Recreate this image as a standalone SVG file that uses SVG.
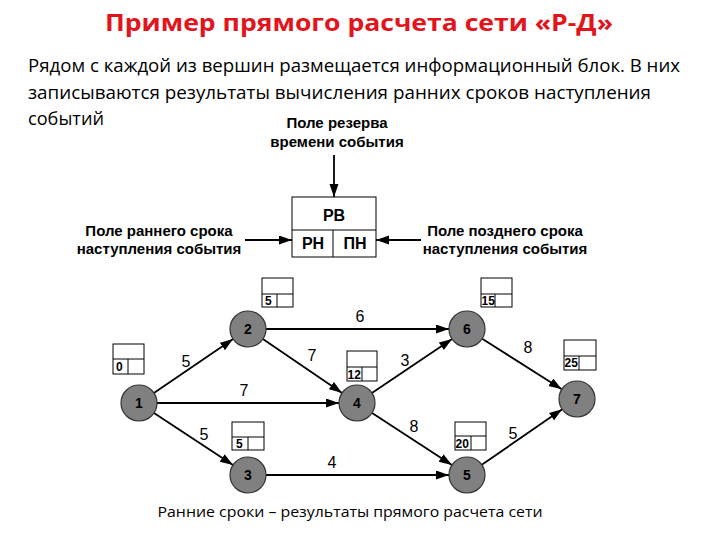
<svg xmlns="http://www.w3.org/2000/svg" width="720" height="540" viewBox="0 0 720 540">
<style>
.title{font-family:"Open Sans","Noto Sans",sans-serif;font-weight:bold;font-size:24px;fill:#e3141c}
.body{font-family:"Open Sans","Noto Sans",sans-serif;font-size:18px;fill:#000}
.lbl{font-family:"Liberation Sans",Arial,sans-serif;font-weight:bold;font-size:15px;fill:#000;text-anchor:middle}
.big{font-family:"Liberation Sans",Arial,sans-serif;font-weight:bold;font-size:16px;fill:#000;text-anchor:middle}
.nd circle{fill:#808080;stroke:#333;stroke-width:1.2}
.nd text{font-family:"Liberation Sans",Arial,sans-serif;font-weight:bold;font-size:14px;fill:#000;text-anchor:middle}
.ib rect,.ib line{fill:#fff;stroke:#000;stroke-width:1}
.ib text{font-family:"Liberation Sans",Arial,sans-serif;font-weight:bold;font-size:12px;fill:#000}
.e{stroke:#000;stroke-width:1.8;fill:none;marker-end:url(#ah)}
.w{font-family:"Liberation Sans",Arial,sans-serif;font-size:16px;fill:#000;text-anchor:middle}
.cap{font-family:"Open Sans","Noto Sans",sans-serif;font-size:14px;fill:#000;text-anchor:middle}
</style>
<defs>
<marker id="ah" markerUnits="userSpaceOnUse" markerWidth="14" markerHeight="10" refX="13" refY="4.5" orient="auto">
<path d="M0,0 L13,4.5 L0,9 z" fill="#000"/>
</marker>
</defs>
<rect width="720" height="540" fill="#fff"/>
<text class="title" x="105" y="31" textLength="508" lengthAdjust="spacingAndGlyphs">Пример прямого расчета сети «Р-Д»</text>
<text class="body" x="28" y="72" textLength="652" lengthAdjust="spacingAndGlyphs">Рядом с каждой из вершин размещается информационный блок. В них</text>
<text class="body" x="28" y="99" textLength="623" lengthAdjust="spacingAndGlyphs">записываются результаты вычисления ранних сроков наступления</text>
<text class="body" x="28" y="125" textLength="76" lengthAdjust="spacingAndGlyphs">событий</text>

<g id="legend">
<text class="lbl" x="337" y="128">Поле резерва</text>
<text class="lbl" x="337" y="147">времени события</text>
<text class="lbl" x="159" y="236">Поле раннего срока</text>
<text class="lbl" x="159" y="254">наступления события</text>
<text class="lbl" x="505" y="236">Поле позднего срока</text>
<text class="lbl" x="505" y="254">наступления события</text>
<rect x="292" y="197" width="84" height="60" fill="#fff" stroke="#000" stroke-width="1"/>
<line x1="292" y1="230" x2="376" y2="230" stroke="#000" stroke-width="1"/>
<line x1="333" y1="230" x2="333" y2="257" stroke="#000" stroke-width="1"/>
<text class="big" x="334" y="221">РВ</text>
<text class="big" x="313" y="249">РН</text>
<text class="big" x="355" y="249">ПН</text>
<line class="e" x1="334" y1="155" x2="334" y2="197" stroke-width="1.3"/>
<line class="e" x1="245" y1="240" x2="292" y2="240" stroke-width="1.3"/>
<line class="e" x1="421" y1="240" x2="376" y2="240" stroke-width="1.3"/>
</g>

<g id="edges">
<line class="e" x1="153.9" y1="392.9" x2="233.1" y2="339.1"/>
<line class="e" x1="157" y1="403" x2="339" y2="403"/>
<line class="e" x1="154" y1="412.9" x2="233" y2="465.1"/>
<line class="e" x1="266" y1="329" x2="449" y2="329"/>
<line class="e" x1="262.9" y1="339.1" x2="342.1" y2="392.9"/>
<line class="e" x1="266" y1="475" x2="449" y2="475"/>
<line class="e" x1="371.9" y1="393" x2="452.1" y2="339"/>
<line class="e" x1="372.1" y1="412.9" x2="451.9" y2="465.1"/>
<line class="e" x1="482.2" y1="338.7" x2="561.8" y2="389.3"/>
<line class="e" x1="481.8" y1="464.8" x2="562.2" y2="409.2"/>
<text class="w" x="186" y="367">5</text>
<text class="w" x="244" y="396">7</text>
<text class="w" x="204" y="440">5</text>
<text class="w" x="360" y="322">6</text>
<text class="w" x="312" y="361">7</text>
<text class="w" x="405" y="366">3</text>
<text class="w" x="414" y="432">8</text>
<text class="w" x="332" y="468">4</text>
<text class="w" x="528" y="353">8</text>
<text class="w" x="513" y="439">5</text>
</g>

<g id="n1" class="nd"><circle cx="139" cy="403" r="18"/><text x="139" y="408">1</text></g>
<g id="n2" class="nd"><circle cx="248" cy="329" r="18"/><text x="248" y="334">2</text></g>
<g id="n3" class="nd"><circle cx="248" cy="475" r="18"/><text x="248" y="480">3</text></g>
<g id="n4" class="nd"><circle cx="357" cy="403" r="18"/><text x="357" y="408">4</text></g>
<g id="n6" class="nd"><circle cx="467" cy="329" r="18"/><text x="467" y="334">6</text></g>
<g id="n5" class="nd"><circle cx="467" cy="475" r="18"/><text x="467" y="480">5</text></g>
<g id="n7" class="nd"><circle cx="577" cy="399" r="18"/><text x="577" y="404">7</text></g>

<g id="b1" class="ib"><rect x="113" y="344" width="31" height="30"/><line x1="113" y1="359" x2="144" y2="359"/><line x1="128" y1="359" x2="128" y2="374"/><text x="116" y="371">0</text></g>
<g id="b2" class="ib"><rect x="262" y="278" width="31" height="29"/><line x1="262" y1="294" x2="293" y2="294"/><line x1="277" y1="294" x2="277" y2="307"/><text x="265" y="305">5</text></g>
<g id="b3" class="ib"><rect x="232" y="422" width="32" height="28"/><line x1="232" y1="437" x2="264" y2="437"/><line x1="248" y1="437" x2="248" y2="450"/><text x="236" y="448">5</text></g>
<g id="b4" class="ib"><rect x="347" y="351" width="30" height="30"/><line x1="347" y1="367" x2="377" y2="367"/><line x1="362" y1="367" x2="362" y2="381"/><text x="347.5" y="379">12</text></g>
<g id="b6" class="ib"><rect x="481" y="278" width="31" height="29"/><line x1="481" y1="294" x2="512" y2="294"/><line x1="495" y1="294" x2="495" y2="307"/><text x="481.5" y="305">15</text></g>
<g id="b5" class="ib"><rect x="455" y="422" width="31" height="28"/><line x1="455" y1="436" x2="486" y2="436"/><line x1="471" y1="436" x2="471" y2="450"/><text x="455.5" y="448">20</text></g>
<g id="b7" class="ib"><rect x="564" y="340" width="32" height="30"/><line x1="564" y1="356" x2="596" y2="356"/><line x1="579" y1="356" x2="579" y2="370"/><text x="564.5" y="367">25</text></g>

<text class="cap" x="350" y="517" textLength="385" lengthAdjust="spacingAndGlyphs">Ранние сроки – результаты прямого расчета сети</text>
</svg>
